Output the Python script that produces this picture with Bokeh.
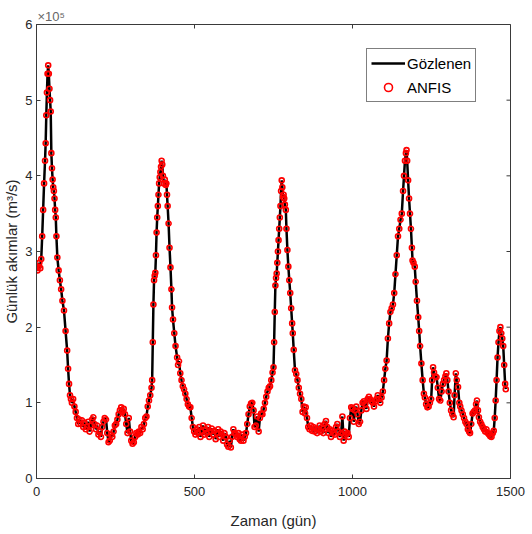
import math
from bokeh.plotting import figure
from bokeh.models import Range1d, FixedTicker, Legend, LegendItem
from bokeh.embed import file_html
from bokeh.resources import INLINE

# day index (gün) and daily flow (x10^5 m3/s)
days = [0, 3, 6, 9, 12, 15, 18, 21, 24, 27, 29, 31, 33, 35, 37, 39, 41, 43, 45, 47, 49, 51, 53, 55, 57, 59,
        61, 63, 66, 70, 74, 78, 82, 87, 92, 97, 100, 103, 106, 109,
        112, 116, 120, 124, 128, 132, 136, 140, 144, 148, 152, 156, 160, 164, 168, 172, 176, 180, 184, 188,
        192, 196, 200, 204, 208, 212, 216, 220, 224, 228, 232, 236, 240, 244, 248, 252, 256, 260, 264, 268,
        272, 276, 280, 284, 288, 292, 296, 300, 304, 308, 312, 316, 320, 324, 328, 332, 336, 340, 344, 348,
        352, 356, 360, 364,
        366, 368, 370, 372, 374, 376, 378, 380, 382, 384, 386, 388, 390, 392, 394, 396, 398, 400, 403, 406,
        409, 411, 413, 415, 418, 421, 424, 427, 429, 432, 436, 440, 445, 448, 451, 455, 459, 463, 467, 471,
        475, 479, 483, 487, 491, 495, 499,
        503, 507, 511, 515, 519, 523, 527, 531, 535, 539, 543, 547, 551, 555, 559, 563, 567, 571, 575, 579,
        583, 587, 591, 595, 599, 603, 607, 611, 615, 619, 623, 627, 631, 635, 639, 643, 647, 651, 655, 659,
        663, 667, 671, 675, 679, 683, 687, 690, 694, 698, 703, 707, 711, 715, 719, 723, 727, 731, 735, 739,
        743, 747, 750,
        752, 754, 756, 758, 760, 762, 764, 766, 768, 770, 772, 774, 776, 778, 780, 782, 784, 786, 789, 791,
        794, 797, 800, 803, 806, 809, 811, 814, 818, 822, 826, 830, 834, 838, 842, 846, 850, 852, 856, 860,
        864, 868, 872, 876, 880, 884, 888, 892, 896, 900, 904, 908, 912, 916, 920, 924, 928, 932, 936, 940,
        944, 948, 952, 956, 960, 964, 968, 972, 976, 980, 984, 988, 992, 996, 1000, 1004, 1008, 1012, 1016,
        1020, 1024, 1028, 1032, 1036, 1040, 1044, 1048, 1052, 1056, 1060, 1064, 1068, 1072, 1076, 1080, 1084,
        1088, 1092, 1096, 1100, 1104,
        1108, 1112, 1116, 1120, 1124, 1128, 1132, 1136, 1140, 1144, 1148, 1152, 1156, 1160, 1163, 1166, 1169,
        1171, 1173, 1176, 1179, 1182, 1185, 1188, 1190, 1193, 1197, 1200, 1204, 1208, 1211, 1214, 1218, 1222,
        1226, 1229, 1233, 1237, 1241, 1245, 1249, 1252, 1255, 1258, 1262, 1266, 1270, 1274, 1278, 1282, 1286,
        1290, 1294, 1297, 1300, 1304, 1308, 1312, 1316, 1320, 1323, 1327, 1330, 1334, 1338, 1341, 1345, 1349,
        1353, 1357, 1361, 1365, 1369, 1372, 1376, 1380, 1384, 1388, 1391, 1394, 1397, 1400, 1404, 1408, 1412,
        1416, 1420, 1424, 1428, 1432, 1436, 1440, 1444, 1447, 1450, 1453, 1456, 1459, 1462, 1465, 1468, 1471,
        1474, 1477, 1480, 1483, 1485]

gozlenen = [2.78, 2.75, 2.8, 2.85, 2.78, 2.9, 3.2, 3.55, 3.9, 4.2, 4.43, 4.8, 5.1, 5.35, 5.46, 5.35, 5.15, 5.0, 4.85, 4.3, 4.1, 3.95, 3.85, 3.8, 3.7, 3.55,
            3.45, 3.2, 2.92, 2.75, 2.62, 2.5, 2.35, 2.22, 1.95, 1.69, 1.45, 1.25, 1.1, 1.05,
            1.0, 1.05, 0.95, 0.88, 0.8, 0.72, 0.78, 0.72, 0.77, 0.68, 0.74, 0.65, 0.68, 0.75, 0.62, 0.7, 0.78, 0.81, 0.72, 0.65,
            0.7, 0.58, 0.62, 0.55, 0.68, 0.75, 0.8, 0.78, 0.6, 0.48, 0.5, 0.58, 0.55, 0.62, 0.7, 0.72, 0.78, 0.85, 0.9, 0.94,
            0.88, 0.92, 0.85, 0.72, 0.6, 0.8, 0.62, 0.5, 0.46, 0.48, 0.55, 0.6, 0.58, 0.62, 0.6, 0.68, 0.65, 0.72, 0.8, 0.82,
            0.95, 1.03, 1.1, 1.2,
            1.3, 1.8, 2.3, 2.62, 2.68, 2.72, 2.95, 3.25, 3.45, 3.6, 3.75, 3.9, 3.98, 4.05, 4.12, 4.2, 4.15, 4.0, 3.9, 3.95,
            3.88, 3.9, 3.75, 3.6, 3.37, 3.05, 2.79, 2.5, 2.26, 2.1, 1.92, 1.75, 1.6, 1.5, 1.55, 1.39, 1.3, 1.22, 1.18, 1.12,
            1.05, 0.98, 0.95, 0.94, 0.8, 0.68, 0.62,
            0.58, 0.65, 0.6, 0.68, 0.55, 0.62, 0.7, 0.58, 0.65, 0.6, 0.68, 0.55, 0.62, 0.66, 0.58, 0.63, 0.52, 0.6, 0.65, 0.55,
            0.62, 0.58, 0.5, 0.6, 0.55, 0.45, 0.42, 0.5, 0.41, 0.55, 0.65, 0.6, 0.58, 0.55, 0.6, 0.52, 0.5, 0.58, 0.5, 0.55,
            0.6, 0.72, 0.85, 0.95, 0.99, 1.0, 0.9, 0.68, 0.7, 0.82, 0.62, 0.8, 0.86, 0.85, 0.92, 1.0, 1.08, 1.15, 1.2, 1.22,
            1.3, 1.4, 1.47,
            1.8, 2.2, 2.55, 2.65, 2.71, 2.85, 3.0, 3.15, 3.3, 3.45, 3.6, 3.8, 3.94, 3.85, 3.72, 3.75, 3.7, 3.62, 3.55, 3.3,
            3.02, 2.8, 2.62, 2.45, 2.25, 2.05, 1.92, 1.7, 1.43, 1.38, 1.3, 1.2, 1.12, 1.05, 0.88, 0.95, 0.86, 0.94, 0.8, 0.68,
            0.65, 0.7, 0.63, 0.68, 0.62, 0.66, 0.6, 0.65, 0.7, 0.62, 0.68, 0.6, 0.72, 0.76, 0.68, 0.6, 0.65, 0.55, 0.63, 0.6,
            0.58, 0.68, 0.72, 0.62, 0.55, 0.6, 0.82, 0.5, 0.62, 0.58, 0.6, 0.55, 0.8, 0.94, 0.92, 0.75, 0.9, 0.95, 0.85,
            0.72, 0.75, 0.9, 1.0, 1.02, 0.98, 0.92, 1.05, 1.08, 1.05, 1.02, 1.0, 0.95, 1.02, 1.05, 1.1, 1.05,
            1.0, 1.07, 1.15, 1.3, 1.45,
            1.56, 1.85, 2.05, 2.2, 2.25, 2.3, 2.45, 2.7, 2.95, 3.2, 3.3, 3.42, 3.5, 3.8, 4.0, 4.2, 4.3,
            4.34, 4.2, 3.94, 3.7, 3.5, 3.3, 3.05, 2.88, 2.85, 2.8, 2.6, 2.35, 2.13, 1.95, 1.75, 1.52, 1.3,
            1.12, 1.07, 0.98, 0.94, 0.95, 1.0, 1.05, 1.3, 1.47, 1.4, 1.35, 1.34, 1.2, 1.05, 1.03, 1.15, 1.25,
            1.3, 1.35, 1.39, 1.3, 1.15, 1.0, 0.9, 0.85, 0.81, 1.1, 1.39, 1.3, 1.21, 1.0, 0.95, 0.9, 0.85,
            0.8, 0.75, 0.72, 0.65, 0.62, 0.6, 0.72, 0.86, 0.88, 0.9, 0.98, 1.03, 0.9, 0.81, 0.75, 0.72, 0.68,
            0.65, 0.62, 0.65, 0.6, 0.58, 0.56, 0.55, 0.6, 0.63, 0.8, 1.03, 1.3, 1.6, 1.8, 1.95, 2.0, 1.92,
            1.85, 1.75, 1.5, 1.25, 1.18]

anfis = list(gozlenen)

x_ticks = [0, 500, 1000, 1500]
y_ticks = [0, 1, 2, 3, 4, 5, 6]
x_max = x_ticks[-1]
y_max = y_ticks[-1]

FONT = "Liberation Sans"
TXT = "#262626"
AX = "#3a3a3a"

p = figure(width=532, height=534, output_backend="svg", toolbar_location=None,
           x_range=Range1d(0, x_max), y_range=Range1d(0, y_max),
           min_border_left=36, min_border_right=22, min_border_top=24, min_border_bottom=56,
           title="×10⁵")
p.title.align = "left"
p.title.text_font = FONT
p.title.text_font_size = "13px"
p.title.text_font_style = "normal"
p.title.text_color = "#666666"
p.title.standoff = 1
p.title.offset = 1

p.xgrid.visible = False
p.ygrid.visible = False
p.outline_line_color = AX
p.outline_line_width = 1
p.background_fill_color = "white"
p.border_fill_color = "white"

for ax in (p.xaxis[0], p.yaxis[0]):
    ax.major_tick_in = 4
    ax.major_tick_out = 0
    ax.minor_tick_line_color = None
    ax.axis_line_color = AX
    ax.major_tick_line_color = AX
    ax.major_label_text_font = FONT
    ax.major_label_text_color = TXT
    ax.major_label_text_font_size = "13px"
    ax.axis_label_text_font = FONT
    ax.axis_label_text_color = TXT
    ax.axis_label_text_font_style = "normal"

p.xaxis[0].ticker = FixedTicker(ticks=x_ticks)
p.yaxis[0].ticker = FixedTicker(ticks=y_ticks)
p.xaxis[0].axis_label = "Zaman (gün)"
p.xaxis[0].axis_label_text_font_size = "15px"
p.xaxis[0].major_label_standoff = 8
p.xaxis[0].axis_label_standoff = 13
p.yaxis[0].axis_label = "Günlük akımlar (m³/s)"
p.yaxis[0].axis_label_text_font_size = "15px"
p.yaxis[0].major_label_standoff = 4
p.yaxis[0].axis_label_standoff = 2

# mirrored inward ticks on the top and right edges of the box (clipped to the frame)
p.scatter(x_ticks, [y_max] * len(x_ticks), marker="dash", size=8, angle=math.pi / 2,
          line_color=AX, line_width=1)
p.scatter([x_max] * len(y_ticks), y_ticks, marker="dash", size=8,
          line_color=AX, line_width=1)

r_line = p.line(days, gozlenen, line_color="black", line_width=2.5)
r_pts = p.scatter(days, anfis, marker="circle", size=5, line_color="red",
                  fill_color=None, line_width=1.6)

legend = Legend(items=[LegendItem(label="Gözlenen", renderers=[r_line]),
                       LegendItem(label="ANFIS", renderers=[r_pts])],
                location=(330, 376), orientation="vertical",
                label_text_font=FONT, label_text_font_size="15px", label_text_color="black",
                glyph_width=34, glyph_height=20, label_standoff=2, padding=4, spacing=4,
                border_line_color="black", border_line_width=1, background_fill_alpha=1,
                margin=0)
p.add_layout(legend, "center")

open("out.html", "w").write(file_html(p, INLINE))
